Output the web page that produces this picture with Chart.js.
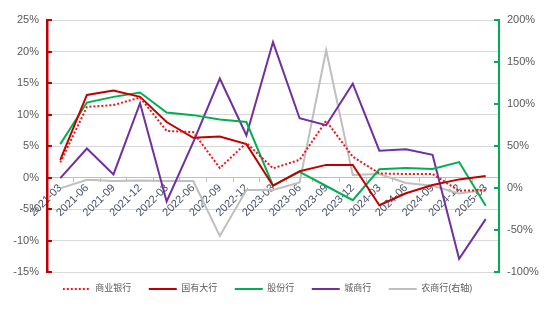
<!DOCTYPE html>
<html>
<head>
<meta charset="utf-8">
<script src="https://cdn.jsdelivr.net/npm/chart.js@4.4.1/dist/chart.umd.min.js"></script>
<style>
html,body{margin:0;padding:0;background:#fff;}
#wrap{width:550px;height:322px;position:relative;}
</style>
</head>
<body>
<div id="wrap"><canvas id="c"></canvas></div>
<script>
const categories = ['2021-03','2021-06','2021-09','2021-12','2022-03','2022-06','2022-09','2022-12','2023-03','2023-06','2023-09','2023-12','2024-03','2024-06','2024-09','2024-12','2025-03'];
const commercialBanks = [2.4, 11.2, 11.5, 12.7, 7.4, 7.2, 1.5, 5.5, 1.45, 2.8, 9.0, 3.3, 0.65, 0.55, 0.55, -2.1, -2.0];
const stateOwned      = [2.8, 13.1, 13.8, 12.8, 8.8, 6.3, 6.5, 5.3, -1.3, 1.0, 2.0, 2.0, -4.4, -2.5, -1.2, -0.3, 0.24];
const jointStock      = [5.3, 11.9, 12.8, 13.5, 10.3, 9.9, 9.2, 8.8, -1.3, 0.9, -1.35, -3.6, 1.3, 1.5, 1.35, 2.45, -4.5];
const cityBanks       = [-0.1, 4.6, 0.5, 11.8, -3.8, 5.6, 15.7, 6.7, 21.5, 9.4, 8.3, 14.9, 4.25, 4.5, 3.6, -12.9, -6.6];
const ruralBanks      = [-0.5, 9.9, 8.3, 9.0, 8.3, 8.3, -57, -2.4, -2.4, 6.7, 164, 15.5, 16.7, 6.0, 2.7, -6.4, -2.0];
const leftTicks = {min: -15, max: 25, step: 5};
const rightTicks = {min: -100, max: 200, step: 50};
const seriesNames = ['商业银行','国有大行','股份行','城商行','农商行(右轴)'];

const FONT = "'Liberation Sans','Noto Sans CJK SC',sans-serif";

// dotted legend symbol for the dotted series
function legendSymbol(color, dash) {
  const cv = document.createElement('canvas');
  cv.width = 28; cv.height = 2;
  const c = cv.getContext('2d');
  c.strokeStyle = color; c.lineWidth = 2;
  c.setLineDash(dash);
  c.beginPath(); c.moveTo(0, 1); c.lineTo(28, 1); c.stroke();
  return cv;
}

const innerTicks = {
  id: 'innerTicks',
  afterDraw(chart) {
    const ctx = chart.ctx;
    const ca = chart.chartArea;
    const y = chart.scales.y, y1 = chart.scales.y1;
    ctx.save();
    ctx.lineWidth = 2;
    ctx.strokeStyle = '#C00000';
    y.ticks.forEach((t, i) => {
      const p = Math.round(y.getPixelForTick(i));
      ctx.beginPath(); ctx.moveTo(ca.left, p); ctx.lineTo(ca.left + 5, p); ctx.stroke();
    });
    ctx.strokeStyle = '#00B050';
    y1.ticks.forEach((t, i) => {
      const p = Math.round(y1.getPixelForTick(i));
      ctx.beginPath(); ctx.moveTo(ca.right - 5, p); ctx.lineTo(ca.right, p); ctx.stroke();
    });
    ctx.restore();
  }
};

function ds(label, data, color, axis, dash) {
  return {
    label, data, yAxisID: axis,
    borderColor: color, backgroundColor: color,
    borderWidth: 2, borderDash: dash || [],
    pointRadius: 0, pointHoverRadius: 0,
    pointStyle: dash ? legendSymbol(color, dash) : 'line',
    tension: 0, fill: false
  };
}

new Chart(document.getElementById('c'), {
  type: 'line',
  data: {
    labels: categories,
    datasets: [
      ds(seriesNames[0], commercialBanks, '#E8161B', 'y', [2, 2]),
      ds(seriesNames[1], stateOwned, '#C00000', 'y'),
      ds(seriesNames[2], jointStock, '#00B050', 'y'),
      ds(seriesNames[3], cityBanks, '#7030A0', 'y'),
      ds(seriesNames[4], ruralBanks, '#BFBFBF', 'y1')
    ]
  },
  options: {
    responsive: true,
    maintainAspectRatio: false,
    animation: false,
    layout: {padding: {left: 0, right: 0, top: 20, bottom: 18.5}},
    plugins: {
      legend: {
        position: 'bottom',
        labels: {
          usePointStyle: true,
          pointStyleWidth: 28,
          boxHeight: 8,
          color: '#595959',
          font: {family: FONT, size: 9},
          padding: 12.5,
          generateLabels(chart) {
            const items = Chart.defaults.plugins.legend.labels.generateLabels(chart);
            items.forEach((it, i) => { it.text = it.text + (i === items.length - 1 ? '      ' : '  '); });
            return items;
          }
        }
      },
      tooltip: {enabled: false}
    },
    scales: {
      x: {
        type: 'category',
        position: {y: 0},
        offset: true,
        grid: {display: true, drawOnChartArea: false, offset: true, drawTicks: true, tickLength: 4, color: '#BFBFBF'},
        border: {display: true, color: '#BFBFBF', width: 1},
        ticks: {
          minRotation: 45, maxRotation: 45, autoSkip: false,
          color: '#44506A', font: {family: FONT, size: 11}, padding: 0
        }
      },
      y: {
        position: 'left',
        min: leftTicks.min, max: leftTicks.max,
        afterFit(s) { s.width = 47; },
        grid: {color: '#D9D9D9', drawTicks: false, lineWidth: 1},
        border: {display: true, color: '#C00000', width: 2.5},
        ticks: {
          stepSize: leftTicks.step, padding: 8,
          color: '#595959', font: {family: FONT, size: 11},
          callback: v => v + '%'
        }
      },
      y1: {
        position: 'right',
        min: rightTicks.min, max: rightTicks.max,
        afterFit(s) { s.width = 51; },
        grid: {drawOnChartArea: false, drawTicks: false},
        border: {display: true, color: '#00B050', width: 2},
        ticks: {
          stepSize: rightTicks.step, padding: 8,
          color: '#595959', font: {family: FONT, size: 11},
          callback: v => v + '%'
        }
      }
    }
  },
  plugins: [innerTicks]
});
</script>
</body>
</html>
